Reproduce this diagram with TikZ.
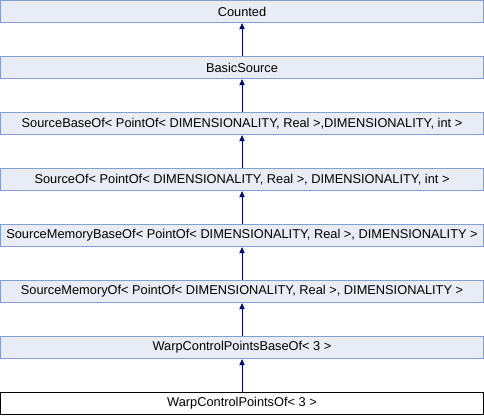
\documentclass[tikz,border=0pt]{standalone}
\usepackage{fontspec}
\setmainfont{Liberation Sans}
\usetikzlibrary{arrows.meta}
\definecolor{boxfill}{RGB}{232,236,245}
\definecolor{boxline}{RGB}{132,160,208}
\definecolor{inherit}{RGB}{0,0,128}
\tikzset{
  cls/.style={draw=boxline,fill=boxfill,line width=1pt,minimum width=483pt,
    minimum height=22pt,inner sep=0pt,font=\fontsize{12.8}{14}\selectfont},
  self/.style={cls,draw=black,fill=white},
  derive/.style={draw=inherit,line width=1pt,-{Triangle[length=6pt,width=5pt]}}
}
\begin{document}
\begin{tikzpicture}[x=1pt,y=-1pt]
\useasboundingbox (0,0) rectangle (484,416);
\node[cls] (counted) at (242,11.5) {Counted};
\node[cls] (basic) at (242,67.5) {BasicSource};
\node[cls] (srcbase) at (242,123.5) {SourceBaseOf< PointOf< DIMENSIONALITY, Real >,DIMENSIONALITY, int >};
\node[cls] (src) at (242,179.5) {SourceOf< PointOf< DIMENSIONALITY, Real >, DIMENSIONALITY, int >};
\node[cls] (membase) at (242,235.5) {SourceMemoryBaseOf< PointOf< DIMENSIONALITY, Real >, DIMENSIONALITY >};
\node[cls] (mem) at (242,291.5) {SourceMemoryOf< PointOf< DIMENSIONALITY, Real >, DIMENSIONALITY >};
\node[cls] (warpbase) at (242,347.5) {WarpControlPointsBaseOf< 3 >};
\node[self] (warp) at (242,403.5) {WarpControlPointsOf< 3 >};
\foreach \a/\b in {basic/counted,srcbase/basic,src/srcbase,membase/src,mem/membase,warpbase/mem,warp/warpbase}
  \draw[derive] (\a.north) -- (\b.south);
\end{tikzpicture}
\end{document}
